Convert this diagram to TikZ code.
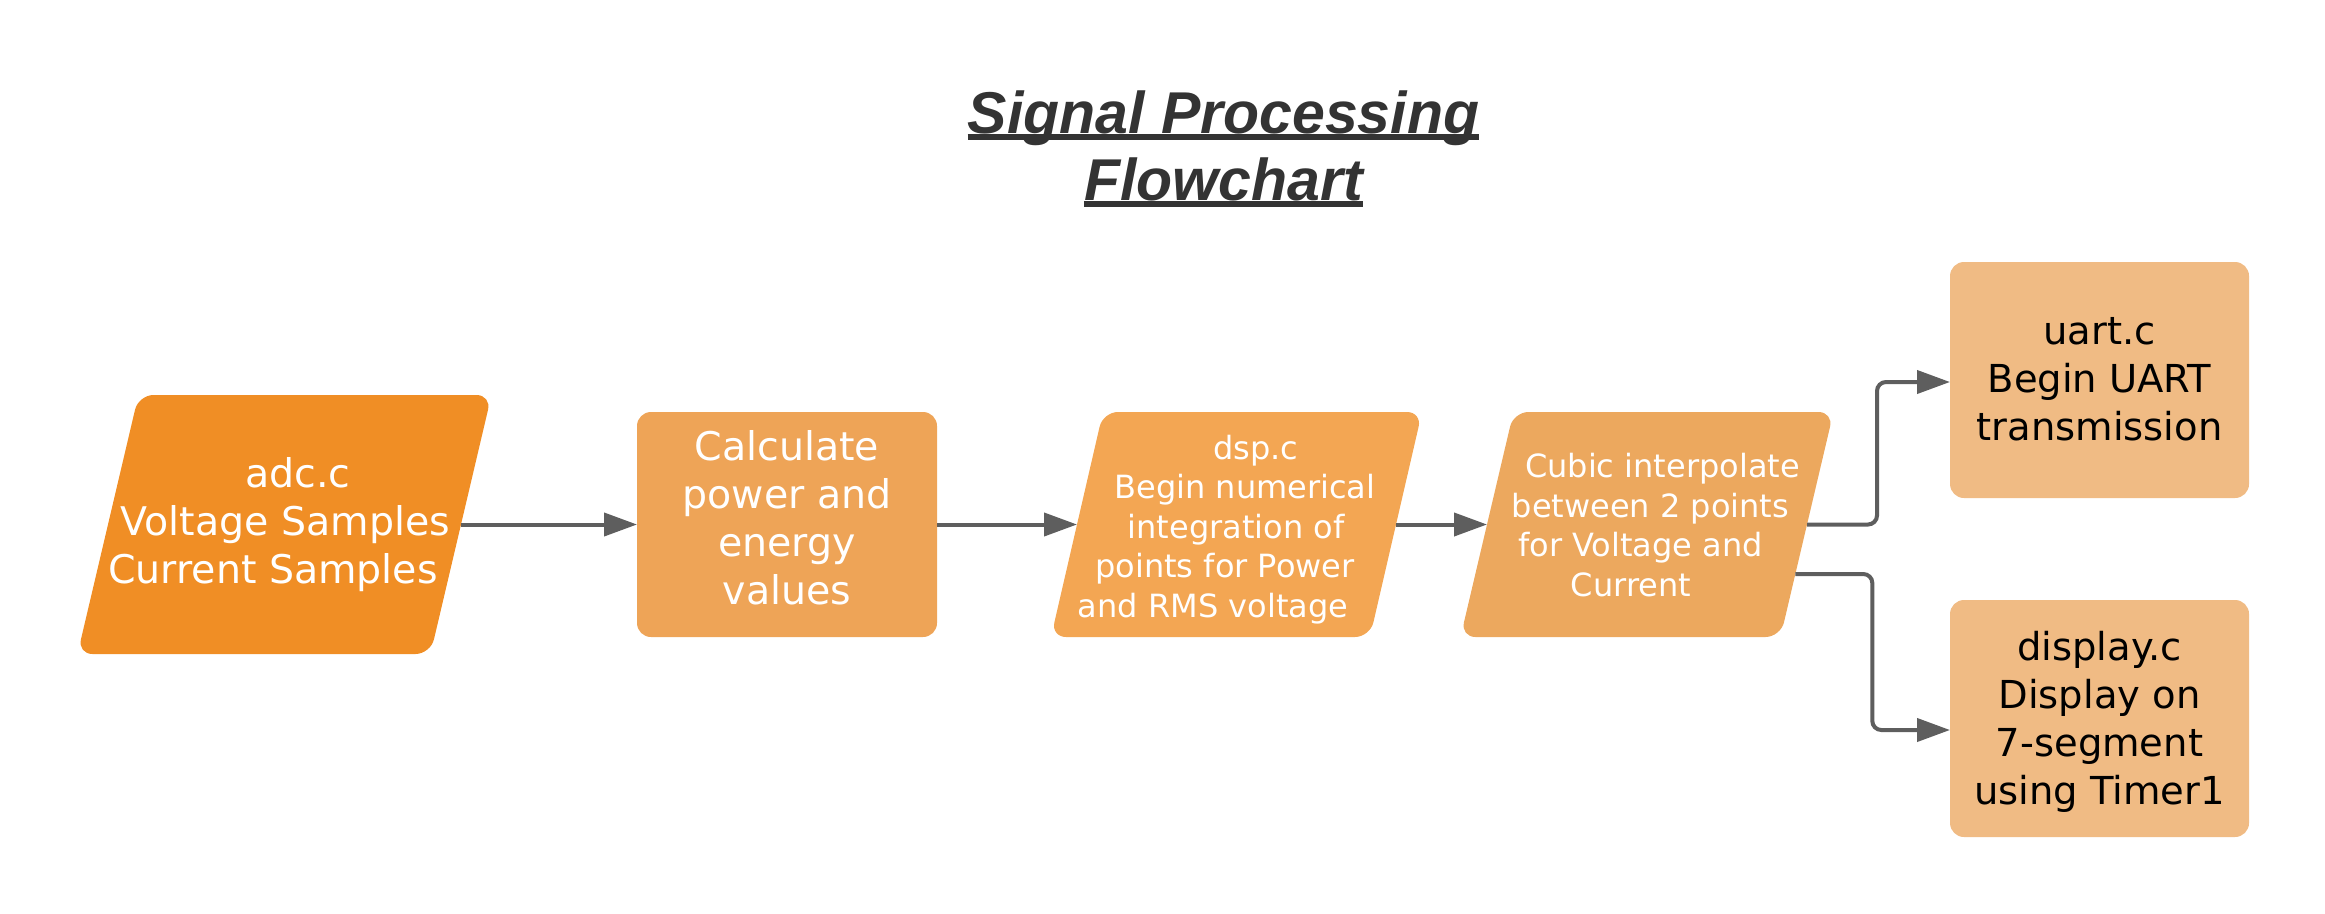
\documentclass[tikz,border=0pt]{standalone}
\usepackage{fontspec}
\setmainfont{DejaVu Sans}
\newfontfamily\titlefont{Liberation Sans}
\usetikzlibrary{arrows.meta,calc}
\definecolor{cadc}{HTML}{F08E25}
\definecolor{ccalc}{HTML}{EEA457}
\definecolor{cdsp}{HTML}{F3A653}
\definecolor{ccub}{HTML}{ECA85E}
\definecolor{cout}{HTML}{F0BB84}
\definecolor{cline}{HTML}{5E5E5E}
\definecolor{ctitle}{HTML}{333333}
\newcommand\SL[2]{\makebox[0pt]{\kern#1pt\relax\strut#2}}
\newcommand\para[3]{%
  \fill[#2, rounded corners=15pt]
    ([xshift=#3pt]#1.north west) -- ([xshift=#3pt]#1.north east) --
    ([xshift=-#3pt]#1.south east) -- ([xshift=-#3pt]#1.south west) -- cycle;}
\tikzset{
  frame/.style={rectangle, inner sep=0pt, outer sep=0pt},
  roundbox/.style={frame, rounded corners=14pt},
  boxw/.style={text=white, align=center, inner sep=0pt, font=\fontsize{39.5}{48}\selectfont},
  boxs/.style={text=white, align=center, inner sep=0pt, font=\fontsize{32}{39.5}\selectfont},
  boxk/.style={text=black, align=center, inner sep=0pt, font=\fontsize{38.5}{48}\selectfont},
  conn/.style={draw=cline, line width=4pt, rounded corners=9pt, -{Triangle[length=33pt,width=23pt]}},
  titletext/.style={anchor=base, inner sep=0pt, text=ctitle, font=\titlefont\bfseries\itshape\fontsize{59}{67}\selectfont},
  uline/.style={draw=ctitle, line width=5.5pt},
}
\begin{document}
\begin{tikzpicture}[x=1pt, y=-1pt]
\useasboundingbox (0,0) rectangle (2325,913);

% title
\node[titletext] (t1) at (1223.5,133) {Signal Processing};
\node[titletext] (t2) at (1223.5,200) {Flowchart};
\draw[uline] ([yshift=-4pt]t1.base west) -- ([yshift=-4pt]t1.base east);
\draw[uline] ([yshift=-4pt]t2.base west) -- ([yshift=-4pt]t2.base east);

% adc.c
\node[frame, minimum width=353pt, minimum height=259pt] (adc) at (284.5,524.5) {};
\para{adc}{cadc}{30.5}
\node[boxw] (adct) at (284.5,526) {\SL{27}{adc.c}\\\SL{2}{Voltage Samples}\\\SL{-23}{Current Samples}};

% calculate
\node[roundbox, fill=ccalc, minimum width=300pt, minimum height=225pt] (calc) at (787,524.5) {};
\node[boxw] (calct) at (787,522.4) {\SL{0}{Calculate}\\\SL{0}{power and}\\\SL{0}{energy}\\\SL{0}{values}};

% dsp.c
\node[frame, minimum width=319pt, minimum height=225pt] (dsp) at (1236.5,524.5) {};
\para{dsp}{cdsp}{26}
\node[boxs] (dspt) at (1236.5,530.1) {\SL{39}{dsp.c}\\\SL{17}{Begin numerical}\\\SL{-1}{integration of}\\\SL{-23}{points for Power}\\\SL{-47}{and RMS voltage}};

% cubic
\node[frame, minimum width=320pt, minimum height=225pt] (cubic) at (1647,524.5) {};
\para{cubic}{ccub}{26.5}
\node[boxs] (cubict) at (1647,529.1) {\SL{31}{Cubic interpolate}\\\SL{7}{between 2 points}\\\SL{-13}{for Voltage and}\\\SL{-32}{Current}};

% uart.c
\node[roundbox, fill=cout, minimum width=299pt, minimum height=236pt] (uart) at (2099.5,380) {};
\node[boxk] (uartt) at (2099.5,382.4) {\SL{0}{uart.c}\\\SL{0}{Begin UART}\\\SL{0}{transmission}};

% display.c
\node[roundbox, fill=cout, minimum width=299pt, minimum height=237pt] (disp) at (2099.5,718.5) {};
\node[boxk] (dispt) at (2099.5,722.9) {\SL{0}{display.c}\\\SL{0}{Display on}\\\SL{0}{7-segment}\\\SL{0}{using Timer1}};

% connectors
\draw[conn] (adc.east) -- (calc.west);
\draw[conn] (calc.east) -- (dsp.west);
\draw[conn] (dsp.east) -- (cubic.west);
\draw[conn] (cubic.east) -- ++(70,0) |- ([yshift=-2pt]uart.west);
\draw[conn] ([xshift=-11.7pt,yshift=-49.5pt]cubic.east) -- ++(77,0) |- ([yshift=-11.5pt]disp.west);
\end{tikzpicture}
\end{document}
